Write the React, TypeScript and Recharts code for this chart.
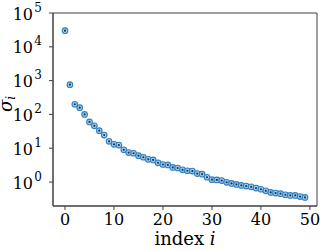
import React from 'react'
import { ScatterChart, Scatter, XAxis, YAxis, ReferenceArea } from 'recharts'

// singular values sigma_i
const sigma = [
  30000, 760, 200, 158, 100, 60, 46, 33, 24.5, 16,
  13, 12.4, 9, 7.4, 7.1, 6.0, 5.4, 4.7, 4.5, 3.7,
  3.3, 3.2, 2.7, 2.6, 2.3, 2.15, 2.1, 1.77, 1.7, 1.38,
  1.17, 1.15, 1.1, 0.98, 0.91, 0.85, 0.79, 0.76, 0.72, 0.66,
  0.61, 0.55, 0.49, 0.47, 0.45, 0.42, 0.4, 0.4, 0.37, 0.35,
]
const xTicks = [0, 10, 20, 30, 40, 50]
const yTicks = [1, 10, 100, 1000, 10000, 100000]
const yExp = [0, 1, 2, 3, 4, 5]

const data = sigma.map((s, i) => ({ i, s }))

const xDomain = [-2.45, 51.45]
const yDomain = [0.195, 100000]
const axisColor = '#404040'
const serif = 'DejaVu Serif'

const Marker = (p: any) => {
  if (p.cx == null || p.cy == null) return null
  return (
    <g>
      <circle cx={p.cx} cy={p.cy} r={2.8} fill="#a9cbe8" stroke="#2f80c0" strokeWidth={1.1} />
      <circle cx={p.cx} cy={p.cy} r={1.1} fill="#0d3c66" />
    </g>
  )
}

const YTick = (p: any) => {
  const k = yTicks.indexOf(p.payload.value)
  return (
    <text x={p.x - 14} y={p.y + 6.5} textAnchor="end" fontFamily={serif} fontSize={16} fill="#000">
      10
      <tspan x={p.x - 5} y={p.y - 1.5} textAnchor="end" fontSize={12}>{yExp[k]}</tspan>
    </text>
  )
}

const XTick = (p: any) => (
  <text x={p.x} y={p.y + 13} textAnchor="middle" fontFamily={serif} fontSize={16} fill="#000">
    {p.payload.value}
  </text>
)

export default function App() {
  return (
    <div style={{ position: 'absolute', left: 0, top: 0, width: 320, height: 250, background: '#fff' }}>
      <ScatterChart width={320} height={250} margin={{ top: 13, right: 3, bottom: 0, left: 0 }}>
        <XAxis
          dataKey="i" type="number" domain={xDomain} ticks={xTicks} allowDataOverflow
          height={44} tickSize={4} tick={XTick}
          stroke={axisColor} tickLine={{ stroke: axisColor }}
          label={{
            content: () => (
              <text x={185} y={245} textAnchor="middle" fontFamily={serif} fontSize={18} fill="#000">
                index <tspan fontStyle="italic">i</tspan>
              </text>
            ),
          }}
        />
        <YAxis
          dataKey="s" type="number" scale="log" domain={yDomain} ticks={yTicks} allowDataOverflow
          width={53} tickSize={4} tick={YTick}
          stroke={axisColor} tickLine={{ stroke: axisColor }}
          label={{
            content: () => (
              <text transform="translate(12,104) rotate(-90)" textAnchor="middle" fontFamily={serif} fontSize={18} fontStyle="italic" fill="#000">
                σ<tspan dy={3} fontSize={12}>i</tspan>
              </text>
            ),
          }}
        />
        <ReferenceArea x1={xDomain[0]} x2={xDomain[1]} y1={yDomain[0]} y2={yDomain[1]} fill="none" stroke={axisColor} strokeWidth={1} ifOverflow="visible" />
        <Scatter data={data} shape={Marker} isAnimationActive={false} />
      </ScatterChart>
    </div>
  )
}
